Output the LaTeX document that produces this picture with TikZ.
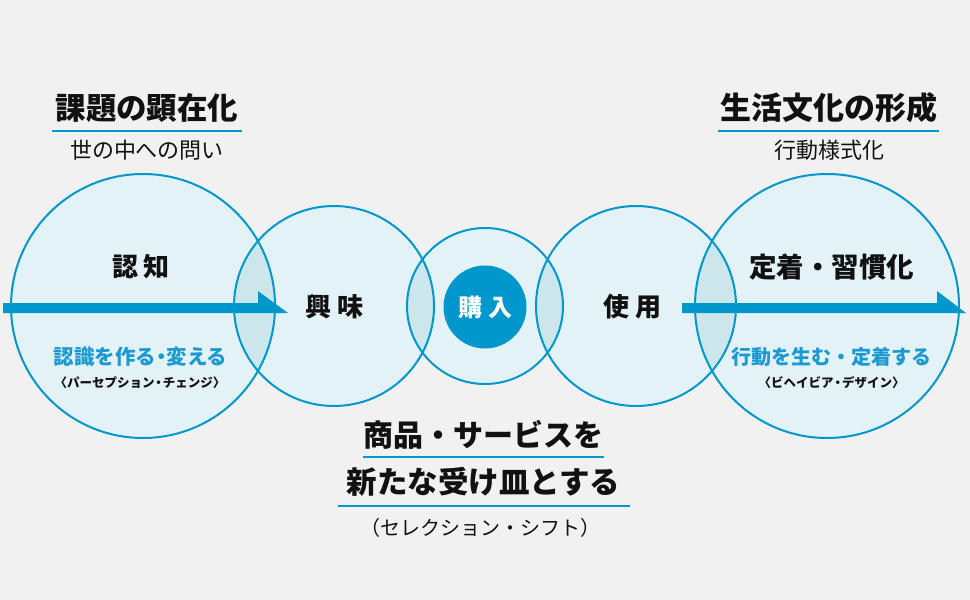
\documentclass[tikz,border=0pt]{standalone}
\usepackage{fontspec}
\setmainfont{Noto Sans CJK JP}
\definecolor{bgc}{HTML}{F1F1F1}
\definecolor{cfill}{HTML}{E3F2F7}
\definecolor{lensc}{HTML}{CCE6EC}
\definecolor{mainblue}{HTML}{0097CD}
\definecolor{txtblue}{HTML}{1B9AD2}
\definecolor{ink}{HTML}{111111}
\newcommand{\fs}[1]{\fontsize{#1}{#1}\selectfont}
\newcommand{\tdot}{\hspace{-5pt}・\hspace{-5pt}}
\begin{document}
\begin{tikzpicture}[x=1pt,y=-1pt,
  circfill/.style={circle,inner sep=0pt,outer sep=0pt,fill=cfill},
  ring/.style={draw=mainblue,line width=2pt},
  lens/.style={fill=lensc},
  flowarrow/.style={fill=mainblue},
  uline/.style={draw=mainblue,line width=2pt},
  head/.style={font=\bfseries\fs{30.5},text=ink,inner sep=0pt},
  sub/.style={font=\fs{22},text=ink,inner sep=0pt},
  stage/.style={font=\bfseries\fs{26},text=ink,inner sep=0pt},
  bluelab/.style={font=\bfseries\fs{20},text=txtblue,inner sep=0pt},
  smalllab/.style={font=\bfseries\fs{12.5},text=ink,inner sep=0pt}]
\fill[bgc] (0,0) rectangle (970,600);
\useasboundingbox (0,0) rectangle (970,600);
% circles
\node[circfill,minimum size=264pt] (c1) at (143,306) {};
\node[circfill,minimum size=200pt] (c2) at (334,306) {};
\node[circfill,minimum size=156pt] (c3) at (485,306) {};
\node[circfill,minimum size=200pt] (c4) at (636,306) {};
\node[circfill,minimum size=264pt] (c5) at (827,306) {};
% lenses
\begin{scope}\clip (c1.center) circle[radius=132];\fill[lens] (c2.center) circle[radius=100];\end{scope}
\begin{scope}\clip (c2.center) circle[radius=100];\fill[lens] (c3.center) circle[radius=78];\end{scope}
\begin{scope}\clip (c3.center) circle[radius=78];\fill[lens] (c4.center) circle[radius=100];\end{scope}
\begin{scope}\clip (c4.center) circle[radius=100];\fill[lens] (c5.center) circle[radius=132];\end{scope}
% rings
\draw[ring] (c1.center) circle[radius=132];
\draw[ring] (c2.center) circle[radius=100];
\draw[ring] (c3.center) circle[radius=78];
\draw[ring] (c4.center) circle[radius=100];
\draw[ring] (c5.center) circle[radius=132];
% arrows
\fill[flowarrow] (3,303) -- (258,303) -- (258,291) -- (288,313) -- (3,313) -- cycle;
\fill[flowarrow] (682,303) -- (937,303) -- (937,291) -- (966,313) -- (682,313) -- cycle;
% purchase core
\node[circle,fill=mainblue,minimum size=83pt,inner sep=0pt] (core) at (485,307) {};
\node[font=\bfseries\fs{24},text=white,inner sep=0pt] (buy) at (core.center) {購\hspace{6pt}入};
% stage labels
\node[stage] (s1) at (141,267) {認\hspace{6pt}知};
\node[stage] (s2) at (334.5,307) {興\hspace{7pt}味};
\node[stage] (s4) at (632.5,307) {使\hspace{7pt}用};
\node[stage,font=\bfseries\fs{27.5}] (s5) at (831.5,267) {定着・習慣化};
\node[bluelab,font=\bfseries\fs{20.5}] (b1) at (140.5,357) {認識を作る\tdot 変える};
\node[smalllab] (p1) at (140,383) {〈パーセプション\hspace{-2pt}・\hspace{-2pt}チェンジ〉};
\node[bluelab] (b5) at (831,357) {行動を生む・定着する};
\node[smalllab] (p5) at (831.5,383) {〈ビヘイビア\hspace{-2pt}・\hspace{-2pt}デザイン〉};
% top headings
\node[head] (h1) at (147,108) {課題の顕在化};
\draw[uline] (52,131) -- (242,131);
\node[sub] (h1s) at (147,150) {世の中への問い};
\node[head,font=\bfseries\fs{31}] (h5) at (829,108) {生活文化の形成};
\draw[uline] (718,131) -- (939,131);
\node[sub] (h5s) at (829.5,150) {行動様式化};
% bottom
\node[head,font=\bfseries\fs{30}] (m1) at (483.5,435) {商品・サービスを};
\draw[uline] (363,457) -- (604,457);
\node[head] (m2) at (483.5,482) {新たな受け皿とする};
\draw[uline] (338,506) -- (630,506);
\node[sub,font=\fs{20}] (m3) at (480,528) {（セレクション・シフト）};
\end{tikzpicture}
\end{document}
